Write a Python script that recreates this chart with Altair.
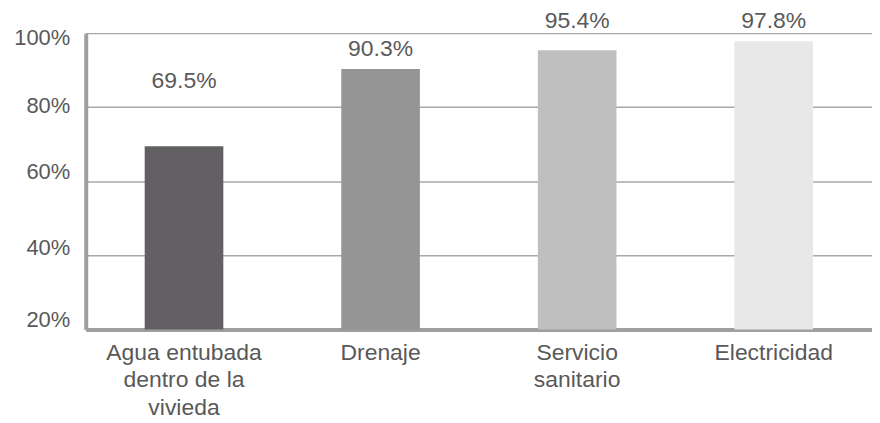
import altair as alt
import pandas as pd

# ---- data ----
categories = ["Agua entubada dentro de la vivieda", "Drenaje", "Servicio sanitario", "Electricidad"]
values = [69.5, 90.3, 95.4, 97.8]
# height (in % units) at which each value label sits in the original
label_heights = [87.1, 95.7, 103.2, 103.2]
bar_colors = ["#636063", "#959595", "#bfbfbf", "#e8e8e8"]
y_ticks = [20, 40, 60, 80, 100]
y_base = 20
wrapped = {
    "Agua entubada dentro de la vivieda": ["Agua entubada", "dentro de la", "vivieda"],
    "Drenaje": ["Drenaje"],
    "Servicio sanitario": ["Servicio", "sanitario"],
    "Electricidad": ["Electricidad"],
}

df = pd.DataFrame({"cat": categories, "value": values, "label_y": label_heights})

# label expression for wrapped x labels
parts = []
for k, lines in wrapped.items():
    arr = "[" + ",".join("'" + l + "'" for l in lines) + "]"
    parts.append(f"datum.label == '{k}' ? {arr} : ")
label_expr = "".join(parts) + "datum.label"

FONT = "Liberation Sans"
TXT = "#595959"

x_enc = alt.X(
    "cat:N",
    sort=categories,
    title=None,
    scale=alt.Scale(paddingInner=0, paddingOuter=0),
    axis=alt.Axis(
        labelExpr=label_expr,
        labelAngle=0,
        labelFont=FONT,
        labelFontSize=23,
        labelColor=TXT,
        labelLineHeight=27.5,
        labelPadding=12,
        labelBaseline="top",
        ticks=False,
        tickSize=0,
        domainColor="#9f9f9f",
        domainWidth=4,
        grid=False,
    ),
)

y_scale = alt.Scale(domain=[20, 100], nice=False, zero=False)

bars = alt.Chart(df).mark_bar(width=alt.RelativeBandSize(0.4)).encode(
    x=x_enc,
    y=alt.Y(
        "value:Q",
        scale=y_scale,
        title=None,
        axis=alt.Axis(
            values=y_ticks,
            labelExpr="datum.value + '%'",
            labelFont=FONT,
            labelFontSize=22,
            labelColor=TXT,
            labelPadding=16,
            labelBaseline="middle",
            labelOffset={
                "condition": [
                    {"test": "datum.value == 100", "value": 4},
                    {"test": "datum.value == 80", "value": -2},
                    {"test": "datum.value == 40", "value": -8},
                ],
                "value": -10,
            },
            ticks=False,
            tickSize=0,
            domainColor="#9f9f9f",
            domainWidth=4,
            grid=True,
            gridColor="#a8a8a8",
            gridWidth=1.5,
        ),
    ),
    y2=alt.datum(y_base),
    color=alt.Color("cat:N", sort=categories, scale=alt.Scale(domain=categories, range=bar_colors), legend=None),
)

labels = alt.Chart(df).transform_calculate(
    txt="format(datum.value, '.1f') + '%'"
).mark_text(font=FONT, fontSize=23, color=TXT, baseline="middle", align="center").encode(
    x=alt.X("cat:N", sort=categories),
    y=alt.Y("label_y:Q", scale=y_scale),
    text="txt:N",
)

chart = (
    alt.layer(bars, labels)
    .properties(
        width=789,
        height=297.5,
        autosize=alt.AutoSizeParams(type="none"),
        padding={"left": 78, "top": 24.5, "right": 0, "bottom": 90},
    )
    .configure_view(strokeWidth=0)
    .configure(background="white")
)

chart.save("out.html", embed_options={"renderer": "svg", "actions": False})
